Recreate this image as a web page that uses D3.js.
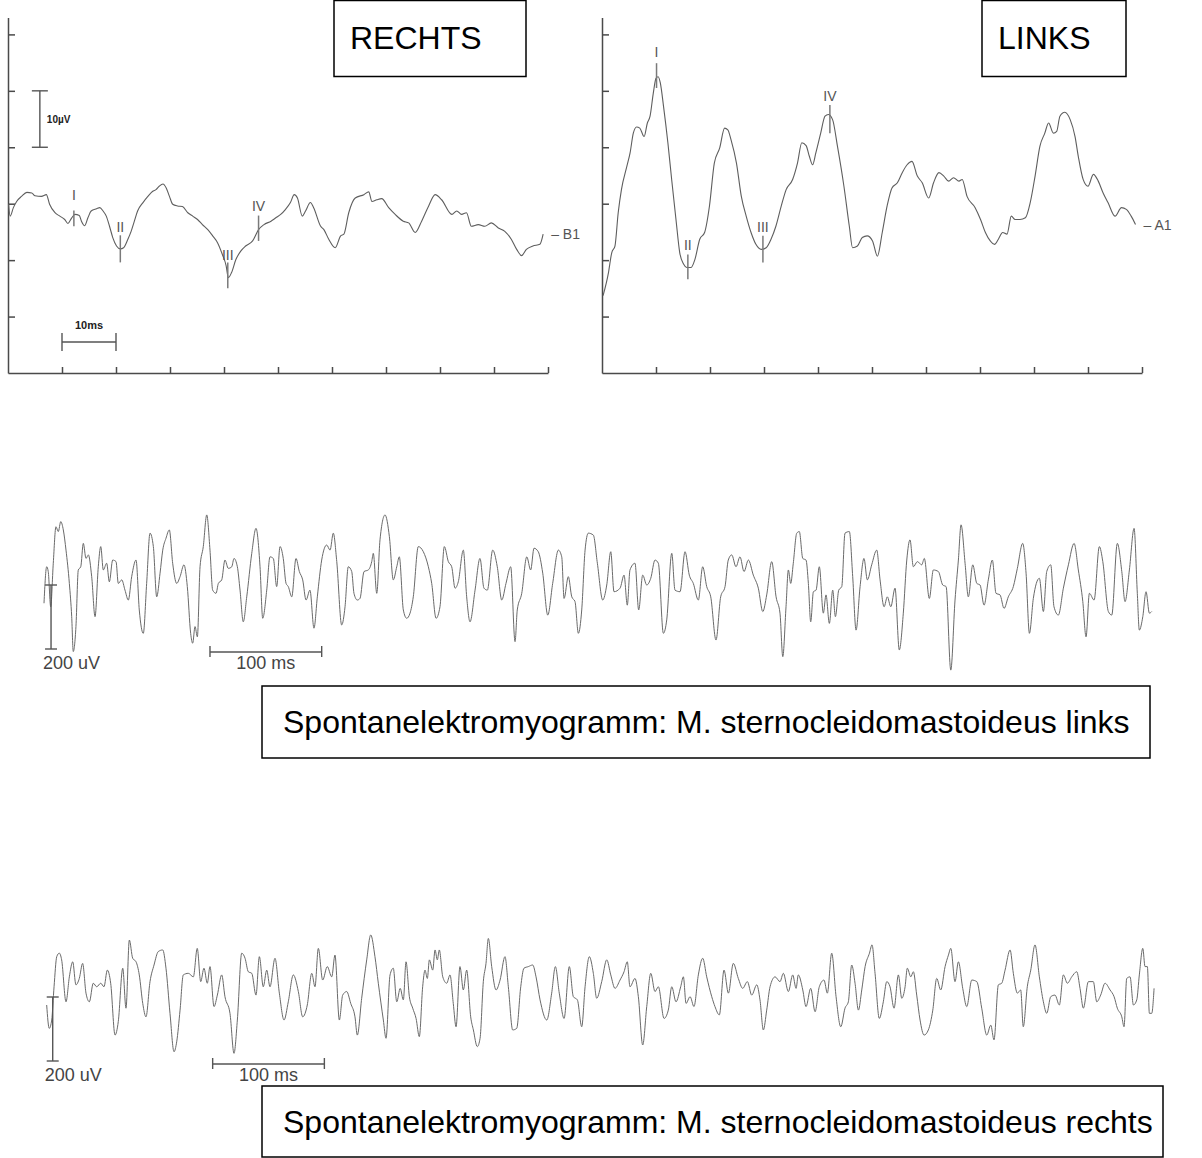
<!DOCTYPE html>
<html>
<head>
<meta charset="utf-8">
<script src="https://cdn.jsdelivr.net/npm/d3@7"></script>
<style>
    body { margin: 0; background: #fff; }
    svg { display: block; font-family: "Liberation Sans", Arial, sans-serif; }
    .axis path, .axis line { stroke: #4a4a4a; stroke-width: 1.5; fill: none; }
    .eeg { fill: none; stroke: #5e5e5e; stroke-width: 1.1; stroke-linejoin: round; }
    .emg { fill: none; stroke: #6a6a6a; stroke-width: 1; stroke-linejoin: round; }
    .marker { stroke: #7a7a7a; stroke-width: 1.5; }
    .bar { stroke: #555; stroke-width: 1.4; }
    .box { fill: none; stroke: #000; stroke-width: 1.5; }
</style>
</head>
<body>
<svg id="chart" width="1202" height="1158"></svg>
<script>
// time in ms, amplitude in µV
var msTicks = [10, 20, 30, 40, 50, 60, 70, 80, 90, 100];
var uvTicks = [10, 20, 30, 40, 50, 60];

var rechtsWave = [[0.1,29.9],[0.4,27.8],[1.0,29.3],[1.6,30.4],[2.5,31.3],[3.5,32.0],[4.4,31.9],[5.0,31.4],[6.2,31.3],[7.1,31.6],[7.7,29.9],[8.7,28.4],[9.6,27.8],[10.5,27.2],[11.1,26.5],[11.8,27.5],[12.4,28.1],[13.2,27.9],[13.6,26.9],[14.2,26.1],[14.8,27.5],[15.4,28.7],[16.4,29.1],[17.0,29.3],[17.6,28.7],[18.2,27.8],[18.8,26.0],[19.4,24.0],[20.1,22.5],[20.8,22.0],[21.4,22.2],[22.2,23.7],[22.8,25.1],[23.4,26.9],[24.0,28.7],[25.0,30.2],[25.9,31.3],[26.8,32.2],[27.4,32.5],[28.0,33.1],[28.7,33.5],[29.3,32.8],[29.9,31.3],[30.5,29.9],[31.4,29.6],[32.3,29.5],[33.3,28.4],[34.2,27.8],[35.1,27.2],[36.0,26.3],[37.0,25.4],[37.9,24.3],[38.8,23.1],[39.7,21.0],[40.4,19.0],[40.8,16.9],[41.4,17.8],[42.2,20.1],[43.1,21.6],[44.0,22.5],[45.3,23.4],[46.4,25.4],[47.4,26.3],[48.7,26.9],[49.6,27.5],[50.5,28.1],[51.4,29.0],[52.3,30.2],[53.0,31.6],[53.6,31.0],[54.5,27.8],[55.1,28.7],[56.0,30.2],[56.6,29.3],[57.9,26.0],[58.5,25.4],[59.4,23.7],[60.6,22.2],[61.6,24.3],[62.2,24.6],[63.1,28.4],[64.3,31.0],[65.9,31.6],[66.8,32.1],[67.4,30.4],[68.3,30.7],[69.2,30.9],[70.5,29.3],[71.7,28.1],[73.2,26.9],[74.2,26.6],[75.4,24.9],[76.6,26.9],[77.9,29.6],[79.1,31.6],[80.3,30.7],[82.2,28.1],[83.1,28.7],[84.0,28.1],[84.9,28.4],[85.8,26.0],[87.1,26.3],[88.3,26.0],[89.5,26.6],[90.8,25.7],[92.0,25.1],[93.2,23.7],[94.2,21.9],[95.1,20.8],[96.0,21.9],[97.2,22.5],[98.5,22.8],[99.1,24.6]];

var linksWave = [[0.2,13.7],[1.2,17.8],[1.8,21.3],[2.4,22.5],[3.0,28.4],[3.6,32.5],[4.6,36.6],[5.2,39.0],[5.8,42.5],[6.4,43.6],[7.0,43.4],[7.8,41.9],[8.4,44.3],[8.9,45.5],[9.5,49.6],[10.0,52.2],[10.4,52.5],[10.8,51.4],[11.4,47.2],[12.2,40.8],[12.9,34.3],[13.7,27.2],[14.4,21.3],[15.1,19.3],[15.7,18.7],[16.5,18.7],[17.2,20.1],[18.1,23.7],[19.0,24.9],[19.9,29.6],[20.8,37.2],[21.8,39.9],[22.7,43.4],[23.3,43.1],[23.9,41.3],[24.9,37.2],[25.8,31.3],[26.7,27.8],[27.6,24.9],[28.5,22.8],[29.5,21.9],[30.4,22.2],[31.3,23.7],[32.2,26.0],[33.2,29.6],[34.1,32.5],[35.3,34.3],[36.2,37.2],[37.0,40.8],[37.8,40.3],[38.4,38.4],[39.0,36.9],[39.6,39.0],[40.5,42.5],[41.3,45.5],[41.9,45.8],[42.7,44.9],[43.6,40.2],[44.8,33.1],[45.8,26.0],[46.4,22.2],[47.3,22.5],[48.2,24.0],[49.1,24.3],[50.1,23.4],[51.0,20.7],[51.9,24.9],[52.8,29.6],[53.7,32.8],[54.7,33.7],[55.6,35.5],[56.5,36.9],[57.4,37.5],[58.4,34.9],[59.3,33.7],[60.5,31.0],[61.4,33.7],[62.4,35.5],[63.3,34.9],[64.2,34.0],[65.1,34.6],[66.1,34.0],[66.7,34.3],[67.6,31.3],[69.1,29.3],[70.1,27.2],[71.0,24.9],[71.9,23.4],[72.7,22.8],[73.4,23.7],[74.2,24.9],[75.0,24.6],[75.8,27.8],[76.5,27.2],[77.4,27.2],[78.4,27.5],[79.3,30.2],[80.2,34.9],[81.1,40.2],[82.0,42.5],[82.7,44.3],[83.6,42.5],[84.2,42.8],[84.8,45.5],[85.7,46.2],[86.7,44.9],[87.6,41.9],[88.2,38.4],[89.1,34.3],[90.0,33.1],[91.0,35.2],[91.9,34.0],[92.8,31.9],[93.7,30.2],[95.0,27.8],[96.2,29.3],[97.1,29.0],[98.0,27.8],[98.8,26.3]];

var rechtsPeaks = [
    { label: "I", t: 12.2, top: 28.8, bottom: 26.0, labelAt: 31.5 },
    { label: "II", t: 20.8, top: 24.4, bottom: 19.6, labelAt: 25.8 },
    { label: "III", t: 40.7, top: 19.6, bottom: 15.0, labelAt: 20.9 },
    { label: "IV", t: 46.4, top: 27.9, bottom: 23.4, labelAt: 29.6 }
];
var linksPeaks = [
    { label: "I", t: 10.1, top: 54.9, bottom: 50.5, labelAt: 56.8 },
    { label: "II", t: 15.9, top: 21.0, bottom: 16.6, labelAt: 22.6 },
    { label: "III", t: 29.8, top: 24.3, bottom: 19.6, labelAt: 25.8 },
    { label: "IV", t: 42.2, top: 47.5, bottom: 42.5, labelAt: 49.0 }
];

var emgLinks = [[0,-57],[2.4,57],[3.8,42],[6.0,-68],[8.3,68],[10.7,182],[12.8,167],[15.0,198],[17.3,172],[19.7,109],[22.7,5],[24.8,-99],[26.2,-208],[28.6,-130],[30.7,47],[32.9,57],[35.2,130],[37.6,83],[39.7,94],[42.7,26],[45.7,-99],[48.6,57],[50.8,120],[53.1,47],[56.1,68],[58.5,10],[61.5,78],[64.5,73],[66.5,5],[69.6,16],[72.5,-16],[75.5,-47],[78.5,26],[82.4,78],[85.3,-78],[88.9,-151],[91.9,5],[94.9,162],[97.9,120],[100.9,-37],[103.9,37],[106.3,109],[109.2,146],[112.2,172],[115.2,68],[118.8,5],[121.8,26],[125.3,63],[128.3,-5],[131.3,-151],[133.1,-182],[135.2,-130],[137.3,-162],[139.7,57],[142.6,120],[145.7,219],[148.6,109],[151.0,-16],[154.0,-26],[156.1,5],[159.1,16],[162.0,78],[165.0,52],[168.1,57],[170.1,83],[173.1,57],[175.5,-16],[178.4,-115],[181.5,-37],[186.0,99],[189.8,177],[193.4,57],[195.8,-104],[199.4,-16],[202.3,88],[205.3,83],[208.3,-5],[211.3,120],[214.2,83],[216.7,5],[218.7,-5],[221.8,-37],[225.6,83],[228.6,42],[231.6,16],[234.6,-47],[238.1,-16],[241.7,-135],[244.7,-37],[248.6,78],[253.1,125],[256.1,109],[259.0,162],[262.1,73],[266.5,-125],[269.5,-68],[272.4,57],[275.5,42],[277.5,-26],[280.5,-47],[282.9,-42],[286.5,42],[290.3,47],[293.4,73],[294.8,99],[297.9,-26],[300.8,141],[305.3,219],[309.2,151],[312.7,16],[315.8,57],[318.1,88],[321.7,-78],[324.7,-104],[327.7,-88],[330.6,-37],[335.1,120],[339.6,104],[344.1,57],[347.1,5],[351.0,-104],[354.5,-68],[358.4,120],[362.0,73],[365.0,57],[368.0,-10],[370.9,10],[375.4,109],[378.4,-37],[381.4,-115],[385.9,-16],[390.3,83],[393.9,-10],[396.9,-16],[401.7,109],[405.8,57],[409.8,-47],[413.6,5],[417.8,57],[421.7,-177],[423.7,-78],[427.7,-26],[432.2,88],[435.7,47],[438.7,115],[442.5,104],[446.5,37],[451.0,-94],[455.4,5],[460.5,109],[463.5,88],[465.6,-42],[469.4,26],[472.5,-37],[475.4,-52],[478.4,-151],[481.4,-78],[484.4,109],[487.3,162],[491.8,156],[495.4,68],[500.2,-47],[503.8,0],[507.4,104],[510.3,-21],[515.7,-10],[519.3,31],[522.2,-63],[524.6,47],[529.1,68],[532.4,-78],[536.0,31],[539.6,0],[543.2,21],[547.0,78],[550.0,68],[554.5,-151],[557.5,-109],[562.0,99],[564.9,-16],[569.4,-21],[573.9,104],[577.7,31],[581.3,5],[585.8,-47],[589.7,57],[593.3,-5],[596.9,-37],[601.6,-172],[605.8,-37],[609.7,-5],[612.6,78],[615.7,94],[619.5,57],[623.1,88],[626.7,42],[630.6,78],[635.0,31],[639.5,-10],[643.5,-83],[647.0,-31],[651.5,73],[655.4,-37],[658.9,-88],[661.4,-224],[664.3,-68],[666.4,47],[668.5,5],[670.8,68],[673.9,162],[676.2,167],[679.3,83],[682.2,78],[684.3,5],[686.4,-115],[688.8,-21],[691.2,-16],[694.1,57],[697.7,-88],[700.1,-31],[703.1,-120],[706.1,-16],[708.5,-99],[711.5,-16],[714.2,-5],[717.1,162],[721.0,167],[724.0,26],[727.0,-141],[730.6,-5],[734.1,83],[737.1,16],[741.0,63],[745.5,109],[748.5,16],[752.1,-68],[755.0,-37],[758.1,-68],[761.9,-10],[765.7,-203],[769.3,-88],[772.4,78],[775.3,141],[778.3,57],[781.9,73],[785.8,63],[788.1,83],[792.6,-42],[796.2,47],[800.7,42],[804.6,0],[807.6,-5],[811.8,-266],[815.6,-47],[818.6,78],[821.0,188],[824.6,68],[827.5,-37],[831.5,63],[835.1,5],[838.0,0],[841.6,-63],[845.4,16],[849.0,78],[852.3,-26],[855.9,-31],[859.5,-73],[863.3,-37],[867.8,-5],[871.4,52],[876.2,130],[879.2,37],[882.2,-151],[885.7,-42],[891.1,21],[894.7,-83],[897.7,42],[901.3,63],[904.2,-68],[908.1,-94],[912.6,-10],[917.1,63],[922.2,130],[926.0,47],[930.0,-52],[932.9,-162],[935.9,-26],[940.1,-47],[944.8,120],[947.9,73],[952.9,-83],[955.9,-94],[960.9,130],[964.9,42],[967.8,-52],[971.7,47],[975.9,177],[978.8,-26],[980.6,-141],[983.7,-99],[986.6,-21],[989.6,-88],[991.7,-83]];

var emgRechts = [[2.4,-25],[4.7,-98],[6.9,-72],[9.0,32],[11.4,126],[13.7,137],[15.8,116],[19.7,-15],[22.7,63],[25.7,110],[28.6,38],[31.6,58],[34.6,105],[37.6,12],[40.6,-15],[44.1,43],[47.2,32],[50.8,43],[53.7,32],[56.7,84],[59.7,43],[63.6,-119],[66.5,-77],[70.5,90],[73.4,-35],[76.4,178],[79.4,121],[82.4,110],[85.3,69],[88.4,-20],[91.3,-62],[94.9,48],[98.5,100],[102.3,142],[106.3,147],[109.2,90],[112.8,-51],[116.4,-171],[118.8,-140],[121.8,-41],[124.7,69],[129.2,74],[133.7,63],[137.2,152],[140.3,48],[143.2,90],[146.2,43],[148.6,95],[152.2,-30],[155.2,6],[159.1,69],[162.0,1],[166.5,-51],[170.1,-176],[173.1,-72],[177.0,137],[180.0,121],[182.9,79],[186.0,74],[189.8,6],[192.8,126],[196.3,32],[199.4,84],[202.3,32],[206.8,121],[210.7,12],[214.9,-72],[218.7,-15],[223.2,69],[227.7,17],[231.6,-62],[235.7,-25],[239.7,74],[242.6,32],[245.6,152],[249.5,53],[253.6,95],[257.6,63],[260.5,131],[264.4,-72],[267.4,6],[271.0,17],[274.6,-20],[278.4,-62],[280.5,-119],[284.4,-4],[288.9,116],[292.5,194],[296.3,126],[299.3,43],[303.8,-72],[306.2,-129],[309.8,69],[312.7,90],[315.8,-15],[318.9,27],[321.7,-9],[324.1,110],[327.1,1],[330.1,-35],[333.1,-67],[336.0,-124],[339.0,32],[341.1,84],[343.2,58],[345.0,116],[348.0,84],[350.1,147],[352.1,116],[353.9,147],[357.0,63],[360.5,43],[363.5,69],[366.4,-20],[368.9,-93],[372.4,95],[375.4,22],[378.4,84],[382.0,-62],[384.4,-103],[387.9,-155],[390.4,-129],[393.3,48],[395.7,105],[397.8,183],[400.8,95],[404.7,22],[408.3,53],[412.7,126],[415.7,32],[419.6,-103],[423.2,-98],[426.8,32],[429.7,90],[433.6,95],[437.5,100],[440.5,63],[444.1,-9],[450.1,-72],[454.5,12],[457.8,95],[461.3,12],[465.6,-67],[470.3,95],[473.9,1],[477.5,-9],[481.4,-93],[484.4,32],[488.2,126],[491.8,74],[494.8,-4],[499.3,48],[503.8,116],[507.4,69],[511.2,27],[515.7,53],[519.3,79],[522.2,110],[524.6,32],[529.1,58],[532.1,1],[536.0,-150],[539.6,-30],[543.2,74],[547.0,17],[550.0,32],[555.1,-67],[558.9,-41],[562.0,32],[565.8,-15],[570.0,32],[572.4,63],[574.8,-20],[578.4,1],[581.9,-30],[585.8,69],[589.7,121],[593.3,63],[597.8,1],[600.7,-30],[604.6,-56],[608.8,84],[612.7,12],[617.1,105],[621.6,58],[625.5,27],[629.7,48],[633.6,6],[638.1,38],[641.0,-9],[644.0,-103],[647.0,-41],[650.0,32],[654.5,63],[658.9,48],[661.9,74],[666.4,17],[670.3,69],[673.3,27],[675.3,69],[679.3,22],[682.2,-30],[686.4,27],[690.3,-46],[694.1,32],[698.3,53],[701.3,12],[705.2,137],[709.1,1],[713.3,-93],[717.1,-35],[720.1,-15],[723.1,100],[726.1,43],[729.1,-41],[732.1,22],[735.1,95],[739.0,137],[741.3,163],[744.0,74],[747.8,-67],[751.4,-15],[754.5,48],[757.4,32],[761.0,-35],[764.9,69],[767.9,-4],[770.9,32],[772.9,90],[776.0,63],[778.3,79],[781.3,6],[784.3,-72],[787.9,-119],[791.7,-103],[795.7,-41],[799.2,58],[802.8,22],[806.7,95],[809.7,131],[811.8,152],[815.6,48],[818.6,110],[822.5,27],[826.1,-30],[830.6,53],[835.1,48],[839.5,-35],[844.0,-119],[847.6,-88],[850.5,-134],[854.4,38],[857.4,43],[860.4,84],[864.9,147],[867.8,74],[871.4,12],[874.4,22],[876.7,-93],[880.3,32],[883.4,84],[887.2,163],[891.1,63],[894.7,-15],[897.7,-51],[901.3,1],[905.1,6],[909.0,-25],[912.6,69],[916.2,43],[920.1,63],[924.6,79],[927.5,27],[930.5,-35],[935.0,48],[939.4,48],[942.5,-15],[946.0,6],[949.9,43],[954.4,22],[958.0,1],[960.9,-35],[964.9,-62],[966.9,-93],[969.3,58],[972.3,63],[975.3,-25],[978.3,-9],[980.6,69],[983.7,152],[985.7,95],[987.8,95],[989.6,-51],[991.7,-51],[993.8,27]];

var svg = d3.select("#chart");

svg.append("rect").attr("width", 1202).attr("height", 1158).attr("fill", "#fff");

function drawPanel(x0, wave, peaks, channel, title, box) {
    var x = d3.scaleLinear().domain([0, 100]).range([x0, x0 + 540]);
    var y = d3.scaleLinear().domain([0, 60]).range([373, 34.4]);

    svg.append("g").attr("class", "axis")
        .attr("transform", "translate(" + x0 + ",0)")
        .call(d3.axisRight(y.copy().domain([0, 63]).range([373, y(63)]))
            .tickValues(uvTicks).tickSize(7).tickSizeOuter(0).tickFormat(""));

    svg.append("g").attr("class", "axis")
        .attr("transform", "translate(0," + y(0) + ")")
        .call(d3.axisTop(x).tickValues(msTicks).tickSize(6).tickSizeOuter(0).tickFormat(""));

    var line = d3.line().curve(d3.curveMonotoneX)
        .x(function(d) { return x(d[0]); }).y(function(d) { return y(d[1]); });
    svg.append("path").datum(wave).attr("class", "eeg").attr("d", line);

    peaks.forEach(function(p) {
        svg.append("line").attr("class", "marker")
            .attr("x1", x(p.t)).attr("x2", x(p.t))
            .attr("y1", y(p.top)).attr("y2", y(p.bottom));
        svg.append("text").attr("x", x(p.t)).attr("y", y(p.labelAt) + 5)
            .attr("text-anchor", "middle").attr("font-size", 14).attr("fill", "#555")
            .text(p.label);
    });

    var last = wave[wave.length - 1];
    svg.append("text").attr("x", x(last[0]) + 8).attr("y", y(last[1]) + 5)
        .attr("font-size", 14).attr("fill", "#555").text("\u2013 " + channel);

    svg.append("rect").attr("class", "box")
        .attr("x", box[0]).attr("y", 0.5).attr("width", box[1]).attr("height", 76);
    svg.append("text").attr("x", box[0] + 16).attr("y", 49)
        .attr("font-size", 32).attr("fill", "#000").text(title);

    return { x: x, y: y };
}

var left = drawPanel(8, rechtsWave, rechtsPeaks, "B1", "RECHTS", [334, 192]);
drawPanel(602, linksWave, linksPeaks, "A1", "LINKS", [982, 144]);

// scale bars in the RECHTS panel
var ux = left.x(5.9);
svg.append("line").attr("class", "bar").attr("x1", ux).attr("x2", ux).attr("y1", left.y(50)).attr("y2", left.y(40));
[50, 40].forEach(function(v) {
    svg.append("line").attr("class", "bar").attr("x1", ux - 8).attr("x2", ux + 8).attr("y1", left.y(v)).attr("y2", left.y(v));
});
svg.append("text").attr("x", ux + 7).attr("y", left.y(45) + 4).attr("font-size", 10)
    .attr("font-weight", "bold").attr("fill", "#222").text("10\u00b5V");

var my = left.y(5.5);
svg.append("line").attr("class", "bar").attr("x1", left.x(10)).attr("x2", left.x(20)).attr("y1", my).attr("y2", my);
[10, 20].forEach(function(t) {
    svg.append("line").attr("class", "bar").attr("x1", left.x(t)).attr("x2", left.x(t)).attr("y1", my - 9).attr("y2", my + 9);
});
svg.append("text").attr("x", left.x(15)).attr("y", my - 13).attr("text-anchor", "middle")
    .attr("font-size", 11).attr("font-weight", "bold").attr("fill", "#222").text("10ms");

function drawEmg(wave, baseY, uvBarT, msBarT, title, box) {
    var x = d3.scaleLinear().domain([0, 1000]).range([44, 44 + 1117]);
    var y = d3.scaleLinear().domain([-200, 200]).range([baseY + 64, baseY - 64]);

    var line = d3.line().curve(d3.curveMonotoneX)
        .x(function(d) { return x(d[0]); }).y(function(d) { return y(d[1]); });
    svg.append("path").datum(wave).attr("class", "emg").attr("d", line);

    var bx = x(uvBarT);
    svg.append("line").attr("class", "bar").attr("x1", bx).attr("x2", bx).attr("y1", y(0)).attr("y2", y(-200));
    [0, -200].forEach(function(v) {
        svg.append("line").attr("class", "bar").attr("x1", bx - 6).attr("x2", bx + 6).attr("y1", y(v)).attr("y2", y(v));
    });
    svg.append("text").attr("x", bx - 8).attr("y", y(-200) + 20)
        .attr("font-size", 18).attr("fill", "#444").text("200 uV");

    var by = y(-200) + 3;
    svg.append("line").attr("class", "bar").attr("x1", x(msBarT)).attr("x2", x(msBarT + 100)).attr("y1", by).attr("y2", by);
    [msBarT, msBarT + 100].forEach(function(t) {
        svg.append("line").attr("class", "bar").attr("x1", x(t)).attr("x2", x(t)).attr("y1", by - 6).attr("y2", by + 5);
    });
    svg.append("text").attr("x", x(msBarT + 50)).attr("y", y(-200) + 20).attr("text-anchor", "middle")
        .attr("font-size", 18).attr("fill", "#444").text("100 ms");

    svg.append("rect").attr("class", "box")
        .attr("x", box[0]).attr("y", box[1]).attr("width", box[2]).attr("height", box[3]);
    svg.append("text").attr("x", box[0] + 21).attr("y", box[1] + 47)
        .attr("font-size", 32).attr("fill", "#000").text(title);
}

drawEmg(emgLinks, 585, 6.3, 148.6, "Spontanelektromyogramm: M. sternocleidomastoideus links", [262, 686, 888, 72]);
drawEmg(emgRechts, 997, 7.8, 151.0, "Spontanelektromyogramm: M. sternocleidomastoideus rechts", [262, 1086, 901, 71]);
</script>
</body>
</html>
